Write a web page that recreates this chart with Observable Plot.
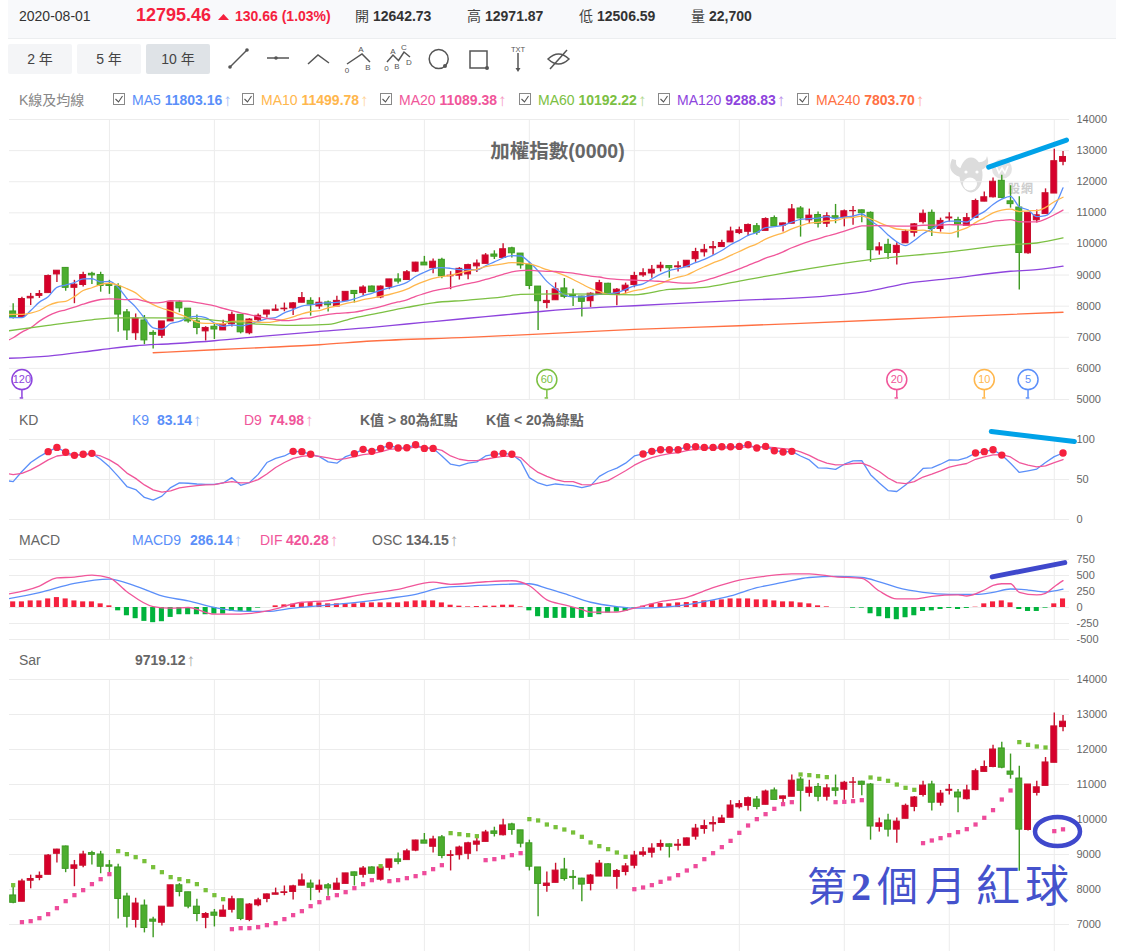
<!DOCTYPE html>
<html><head><meta charset="utf-8">
<script src="https://cdn.jsdelivr.net/npm/d3@7"></script>
<script src="https://cdn.jsdelivr.net/npm/@observablehq/plot@0.6"></script>
<style>
html,body{margin:0;padding:0;width:1145px;height:951px;overflow:hidden;background:#fff;font-family:"Liberation Sans","Noto Sans CJK TC",sans-serif;}
#page{position:relative;width:1145px;height:951px;overflow:hidden;}
.t{position:absolute;white-space:nowrap;transform:translateY(-50%);line-height:1;}
.abs{position:absolute;}
.up{font-weight:normal;opacity:.6;font-size:17px;line-height:0;vertical-align:-1px;margin-left:1px;}
</style></head><body><div id="page"></div>
<script>
const open_=[7830,7650,8250,8330,8420,9020,9230,8590,8680,9040,9000,8690,8630,7800,7130,7540,7140,7050,7510,8120,7920,7510,7190,7340,7220,7420,7720,7130,7550,7730,7850,7900,7930,8110,8170,7990,8120,7990,8160,8490,8420,8630,8280,8620,8860,8840,9110,9400,9220,9490,8960,8980,9020,9280,9360,9660,9550,9860,9690,9320,8630,8100,8190,8570,8360,8310,8160,8370,8720,8360,8500,8680,8990,9050,9220,9290,9250,9250,9510,9730,9860,9900,10050,10350,10390,10570,10420,10830,10590,10650,11140,10760,10930,10650,10890,10850,11050,11080,11000,9790,9970,9710,10020,10360,10700,11000,10480,10820,10770,10580,10840,11360,11500,12030,11370,11170,9700,10760,10960,11620,12640];
const high=[8080,8290,8410,8500,9000,9150,9240,8830,9090,9090,9090,8830,8720,7890,7750,7700,7210,7510,8120,8170,7920,7720,7340,7430,7550,7810,7720,7600,7750,7870,8040,8100,8120,8440,8270,8270,8170,8320,8460,8500,8660,8650,8650,8860,9040,9150,9410,9600,9520,9540,9110,9240,9350,9480,9690,9780,10010,9890,9690,9410,8630,8500,8750,8890,8540,8320,8430,8830,8740,8570,8740,9090,9200,9310,9410,9300,9430,9470,9860,9980,10080,10120,10540,10540,10640,10660,10840,10900,10670,11270,11200,11120,11030,11000,11270,11090,11200,11090,11030,10040,10150,10040,10440,10660,11090,11090,10830,11000,10860,10980,11440,11670,12120,12210,11870,11520,11000,11090,11770,13040,12970];
const low=[7590,7650,8020,8250,8420,8760,8480,8080,8620,8700,8450,8380,7160,6900,6900,6760,6620,6960,7510,7790,7450,7080,6880,6930,7220,7330,7110,7080,7510,7620,7850,7820,7700,8110,7680,7900,7810,7990,8160,8100,8330,8450,8240,8530,8710,8840,9080,9310,9040,8880,8530,8840,8850,9080,9360,9500,9530,9550,9190,8530,7220,7920,8190,8240,7990,7650,7960,8370,8370,8010,8390,8590,8930,8900,9100,8900,9100,9250,9410,9580,9640,9900,10050,10300,10240,10280,10420,10560,10380,10650,10220,10640,10510,10530,10650,10550,10600,10680,9410,9640,9500,9320,10020,10220,10640,10240,10380,10700,10190,10560,10820,11360,11480,11450,11150,8520,9670,10670,10960,11620,12510];
const close_=[7620,8230,8300,8390,8970,9140,8590,8690,9000,8990,8650,8650,7730,7220,7600,6900,7080,7510,8120,7930,7510,7300,7300,7250,7400,7720,7160,7570,7690,7860,7890,7920,8090,8260,8050,8110,8030,8170,8460,8390,8600,8450,8630,8860,8790,9090,9400,9310,9430,8960,8980,9200,9320,9370,9630,9590,9830,9700,9310,8650,8160,8170,8540,8300,8330,8140,8400,8740,8370,8530,8660,8970,9060,9170,9300,9220,9280,9460,9740,9810,9900,10030,10400,10440,10610,10360,10800,10560,10660,11110,10820,10910,10650,10890,10820,11050,11060,10990,9800,9890,9710,9940,10390,10630,10970,10480,10740,10850,10630,10830,11380,11500,12000,11480,11280,9710,11000,10920,11630,12660,12795];
// moving averages, bar 0 (clipped at the left edge) to bar 121
const ma5=[7630,7630,7630,7860,8130,8302,8606,8678,8756,8878,8882,8784,8796,8604,8248,7970,7620,7306,7262,7442,7508,7630,7674,7632,7458,7352,7394,7366,7420,7508,7600,7634,7786,7890,8004,8042,8086,8108,8124,8164,8232,8330,8414,8506,8586,8666,8764,8954,9090,9204,9238,9216,9176,9178,9166,9300,9422,9548,9624,9612,9416,9130,8798,8566,8364,8300,8296,8342,8382,8396,8436,8540,8654,8718,8878,9032,9144,9206,9286,9400,9502,9638,9788,9976,10116,10276,10368,10522,10554,10598,10698,10790,10812,10830,10876,10818,10864,10894,10962,10744,10558,10290,10066,9946,10112,10328,10482,10642,10734,10734,10706,10886,11038,11268,11438,11528,11194,11094,10878,10908,11184,11803];
const ma10=[7730,7733,7733,7776,7861,8022,8118,8154,8308,8504,8592,8695,8737,8680,8563,8426,8202,8051,7933,7845,7739,7625,7490,7447,7450,7430,7512,7520,7526,7483,7476,7514,7576,7655,7756,7821,7860,7947,8007,8084,8137,8208,8261,8315,8375,8449,8547,8684,8798,8895,8952,8990,9065,9134,9185,9269,9319,9362,9401,9389,9358,9276,9173,9095,8988,8858,8713,8570,8474,8380,8368,8418,8498,8550,8637,8734,8842,8930,9002,9139,9267,9391,9497,9631,9758,9889,10003,10155,10265,10357,10487,10579,10667,10692,10737,10758,10827,10853,10896,10810,10688,10577,10480,10454,10428,10443,10386,10354,10340,10423,10517,10684,10840,11001,11086,11117,11040,11066,11073,11173,11356,11500];
const ma20=[6850,6984,7166,7305,7519,7690,7808,7883,7968,8064,8150,8214,8235,8228,8212,8224,8160,8103,8120,8175,8166,8160,8114,8064,8007,7928,7857,7786,7730,7664,7608,7570,7533,7551,7603,7626,7686,7734,7767,7784,7807,7861,7919,7985,8066,8135,8204,8316,8403,8490,8545,8599,8663,8725,8780,8859,8933,9023,9100,9142,9155,9133,9119,9115,9087,9064,9016,8966,8938,8885,8863,8847,8836,8823,8813,8796,8778,8750,8738,8760,8818,8905,8998,9091,9198,9312,9423,9543,9634,9748,9877,9985,10082,10162,10248,10324,10415,10504,10581,10584,10588,10578,10574,10573,10583,10601,10607,10604,10618,10617,10603,10631,10660,10728,10757,10780,10713,10710,10707,10798,10937,11089];
const ma60Bars=[0,5,10,13,17,21,25,29,33,37,40,42,46,49,53,57,59,63,68,72,76,80,84,92,99,108,115,118,121];
const ma60=[7190,7380,7562,7626,7626,7615,7519,7423,7380,7412,7626,7734,7959,8109,8195,8302,8377,8398,8387,8366,8537,8602,8805,9208,9496,9742,9977,10030,10192];
const ma120Bars=[0,5,11,15,19,24,30,36,42,46,49,53,57,61,63,68,72,80,84,95,99,103,108,115,118,121];
const ma120=[6320,6396,6599,6728,6792,6888,7048,7187,7317,7427,7506,7611,7716,7821,7873,7959,8013,8130,8184,8353,8492,8727,8887,9122,9175,9289];
const ma240Bars=[17,24,30,36,42,53,61,72,84,91,102,110,121];
const ma240=[6503,6599,6674,6760,6880,6995,7102,7252,7370,7450,7580,7680,7804];
// KD, bar 0 to bar 121
const k9=[49,47.3,60,71.2,78.6,84.8,90.1,84,80.2,81.5,82.7,75.3,65.8,53.9,41.2,37.4,27.6,24.3,29.2,39.9,45.7,45.3,44.4,44,44,45.7,52.3,42.8,46.1,56.4,71.2,76.5,79.4,85.2,84.8,81.5,78.6,72,70.4,78.6,82.3,87.7,85.2,88.9,92.6,89.3,89.7,93.4,88.9,88.9,79.4,69.1,67,70.4,72,79.4,81.5,82.7,81.5,73.3,52.3,45.7,42.4,44.4,43.2,42.4,39.9,42.4,53.9,60,64.2,70.4,79.4,81.9,85.2,87.2,87.2,87.2,90.9,90.9,90.1,90.1,90.9,90.9,91.4,93.4,89.3,91.4,86,84.4,85.2,79.4,74.5,64.6,64.2,62.6,69.1,73.3,73.7,56,45.7,36.2,35,43.2,52.7,63.8,64.6,69.1,74.5,74.1,77.4,83.1,84.8,87.2,80.5,70.4,58.8,60.9,63,71.2,78.6,83.14];
const d9=[58,56,57.6,62,68,74.5,79.4,80.7,80.7,80.7,81.5,79.4,74.5,67.9,58,51.4,43.2,37,34.2,35.8,39.5,41.2,42.4,43.2,43.6,45.7,47.3,45.7,46.1,49.8,56.8,65,71.2,76.5,79,80.2,79,77,74.9,76.1,78.6,81,82.3,84.4,87.7,88.5,88.5,90.9,90.1,88.9,86.4,79.4,75.3,73.7,73.7,75.3,77.4,79,79.4,77.4,67,58.8,53.9,49.8,47.3,47.3,43.6,43.2,45.7,48.6,54.7,60.9,67.9,73.3,77.4,80.2,82.3,83.5,86,87.7,88.5,88.9,89.3,89.7,90.1,90.9,90.9,90.9,89.7,88.5,87.7,84.4,80.2,74.5,70.4,68.3,68.7,70,70.4,66.3,60,51.9,46.1,44.9,47.3,53.1,56.8,60.9,65.4,67.9,70,75.3,78.2,80.7,81,78.2,71.2,67.9,65.8,67,71.2,74.98];
// MACD, bar 1 to bar 121 for OSC
const osc=[88,88,103,103,134,155,134,103,88,88,57,26,-52,-129,-175,-217,-237,-222,-155,-113,-113,-113,-113,-103,-103,-62,-62,-62,-10,0,26,41,52,67,77,72,57,57,57,57,72,72,72,72,72,88,103,103,103,72,36,21,10,15,21,21,36,36,10,-52,-144,-170,-170,-170,-170,-170,-155,-113,-88,-72,-62,-10,21,52,62,57,72,77,93,103,103,119,134,134,134,119,119,103,88,88,72,57,26,10,0,0,-10,-10,-98,-144,-175,-191,-160,-129,-62,-52,-31,-15,-31,-15,5,57,88,103,72,-31,-62,-62,-10,57,134];
const macdBars=[0,4,8,12,15,18,21,24,27,30,33,36,40,44,47,50,53,57,60,62,64,67,70,72,74,77,80,83,86,89,92,95,98,100,102,105,108,111,113,115,117,119,121];
const macd9=[125,232,376,443,335,180,103,0,-57,-62,-10,26,77,144,206,309,335,361,371,299,217,82,15,-10,-5,26,93,180,309,392,469,485,469,402,314,237,206,206,237,289,273,242,286];
const difBars=[0,4,6,8,10,12,14,17,19,21,24,27,30,34,37,41,45,49,51,55,58,60,62,64,66,67,70,72,75,78,81,84,87,90,92,95,98,100,102,104,106,109,110,112,113,114,115,116,118,119,120,121];
const dif=[200,335,464,474,505,464,247,15,-10,0,-103,-103,-52,82,108,206,284,397,361,402,418,340,119,41,-31,-72,-72,-10,93,160,309,428,490,526,526,479,454,258,134,134,175,196,180,273,345,371,371,237,196,222,325,420];
// SAR, bar 1 to bar 121
const sar=[8124,7067,7095,7181,7295,7467,7667,7838,7981,8153,8295,8438,9095,9010,8924,8810,8638,8495,8353,8295,8238,8153,7981,7838,7724,6867,6895,6895,6924,6981,7038,7153,7267,7381,7524,7638,7753,7838,7924,8038,8153,8267,8667,8238,8267,8324,8381,8467,8581,8695,9610,9581,9553,9524,8838,8867,8924,8981,9038,10010,9972,9857,9781,9714,9629,9505,9343,9238,9152,9057,8933,8009,8057,8124,8219,8314,8410,8543,8667,8867,9038,9210,9390,9619,9829,10010,10152,10305,10438,10495,11286,11267,11238,11210,10495,10505,10524,10552,11200,11162,11105,10999,10905,10848,9324,9400,9467,9552,9638,9724,9857,10048,10267,10571,10829,12210,12133,12086,12057,9667,9719];
const sarGreenFrom=[1,13,43,51,60,91,99,116];
const sarGreenTo=[1,25,43,54,71,94,104,119];
// scale ticks
const priceTicks=[5000,6000,7000,8000,9000,10000,11000,12000,13000,14000];
const sarTicks=[7000,8000,9000,10000,11000,12000,13000,14000];
const kdTicks=[0,50,100];
const macdTicks=[-500,-250,0,250,500,750];
const gridBars=[12,24,36,48,60,72,84,96,108,120];
const xDomain=[0.58,121.74];
// period markers
const markerBars=[2,62,102,112,117];
const markerLabels=["120","60","20","10","5"];
const markerColors=["#8e44dd","#7cc043","#f0569a","#ffb74d","#5b8ff9"];
// hand-drawn notes
const noteTopBars=[112.5,121.4], noteTopVals=[12470,13340];
const noteKdBars=[112.8,122.3], noteKdVals=[110,97.5];
const noteMacdBars=[112.9,121.2], noteMacdVals=[479,701];
// header text
const legendMA=[
 {x:113,name:"MA5",val:"11803.16",c:"#5b8ff9"},
 {x:242,name:"MA10",val:"11499.78",c:"#ffb74d"},
 {x:380,name:"MA20",val:"11089.38",c:"#f0569a"},
 {x:519,name:"MA60",val:"10192.22",c:"#7cc043"},
 {x:658,name:"MA120",val:"9288.83",c:"#8e44dd"},
 {x:797,name:"MA240",val:"7803.70",c:"#ff7043"}];
const quote=[[355,"開","12642.73"],[467,"高","12971.87"],[579,"低","12506.59"],[691,"量","22,700"]];
const caption=[["第",807,40],["2",851,40],["個",877,41],["月",925,41],["紅",976,44],["球",1025,44]];

for (const a of [open_,high,low,close_,osc,sar]) if(a.length!==121) throw new Error("len121 "+a.length);
for (const a of [ma5,ma10,ma20,k9,d9]) if(a.length!==122) throw new Error("len122 "+a.length);
if(ma60.length!==ma60Bars.length||ma120.length!==ma120Bars.length||ma240.length!==ma240Bars.length||macd9.length!==macdBars.length||dif.length!==difBars.length) throw new Error("knots");

const page=document.getElementById("page");
function text(x,y,s,o={}){
  const e=document.createElement("div");e.className="t";e.style.left=x+"px";e.style.top=y+"px";
  e.style.fontSize=(o.size||14)+"px";e.style.color=o.c||"#666";if(o.bold)e.style.fontWeight="bold";
  if(o.ls)e.style.letterSpacing=o.ls+"px";
  e.textContent=s;page.appendChild(e);return e;}
function box(x,y,w,h,bg){const e=document.createElement("div");e.className="abs";e.style.cssText+=`left:${x}px;top:${y}px;width:${w}px;height:${h}px;background:${bg};`;page.appendChild(e);return e;}
function svg(inner){const w=document.createElement("div");w.innerHTML=`<svg class="abs" style="left:0;top:0;pointer-events:none;overflow:visible" width="1145" height="951" xmlns="http://www.w3.org/2000/svg">${inner}</svg>`;page.appendChild(w.firstChild);}

// header strip
box(8,0,1108,38,"#f8f9fb");box(8,38,1108,1,"#eceef0");
text(19,16,"2020-08-01",{size:14,c:"#333"});
text(136,15,"12795.46",{size:18,bold:true,c:"#f5213e"});
svg(`<path d="M218 20 L229 20 L223.5 14 Z" fill="#f5213e"/>`);
text(235,16,"130.66 (1.03%)",{size:14,bold:true,c:"#f5213e"});
for(const [x,l,v] of quote){text(x,16,l,{size:14,c:"#444"});text(x+18,16,v,{size:14,bold:true,c:"#333"});}
// range buttons
[[8,"2 年","#f4f5f7"],[77,"5 年","#f4f5f7"],[146,"10 年","#dfe3e7"]].forEach(([x,l,bg])=>{
  const b=box(x,44,64,30,bg);b.style.borderRadius="2px";
  const t=text(x+32,59,l,{size:14,c:"#444"});t.style.transform="translate(-50%,-50%)";});
// tool icons
svg(`<g fill="none" stroke="#555" stroke-width="1.5">
<path d="M230 67 L247 50"/><path d="M267 58 H289"/><path d="M308 64 L318 55 L329 63"/>
<path d="M347 64 L362 54 L370 62"/><path d="M387 62 L393 55 L398.5 60.5 L404 52 L410 57"/>
<circle cx="438.7" cy="59" r="9.5"/><rect x="470" y="51" width="17" height="17"/><path d="M518 53 V70"/>
<path d="M548 59 Q558.6 49 569 59 Q558.6 69 548 59 Z"/><path d="M550 69 L567 50"/>
</g><g fill="#555"><circle cx="230" cy="67" r="1.8"/><circle cx="247" cy="50" r="1.8"/><circle cx="276" cy="58" r="1.8"/><circle cx="445" cy="66" r="2"/><circle cx="487" cy="68" r="2"/><path d="M515.5 68 h5 l-2.5 4 z"/>
<g font-size="8" font-family="Liberation Sans" text-anchor="middle"><text x="361" y="52">A</text><text x="347" y="73">0</text><text x="368" y="70">B</text>
<text x="393" y="54">A</text><text x="404" y="50">C</text><text x="386.6" y="71">0</text><text x="397" y="69">B</text><text x="409" y="65">D</text><text x="518" y="52" font-size="7.5">TXT</text></g></g>`);

// MA legend
text(19,100,"K線及均線",{size:14,c:"#888"});
for(const m of legendMA){
  const b=box(m.x,93,12,12,"#fff");b.style.border="1px solid #888";b.style.boxSizing="border-box";
  svg(`<path d="M${m.x+2.5} ${99} l3 3 l4 -6" fill="none" stroke="#555" stroke-width="1.1"/>`);
  const e=text(m.x+19,100,"",{c:m.c});
  e.innerHTML=`${m.name} <b>${m.val}</b><span class="up">↑</span>`;
}
// panel headers
function hdr(y,parts){for(const p of parts){const e=text(p.x,y,"",{c:p.c||"#666",bold:p.bold});e.innerHTML=p.h;}}
const ar=`<span class="up">↑</span>`;
hdr(420,[{x:19,h:"KD"},{x:132,h:"K9",c:"#5b8ff9"},{x:157,h:"83.14"+ar,c:"#5b8ff9",bold:1},{x:244,h:"D9",c:"#f0569a"},{x:269,h:"74.98"+ar,c:"#f0569a",bold:1},{x:360,h:"K值 &gt; 80為紅點",bold:1},{x:486,h:"K值 &lt; 20為綠點",bold:1}]);
hdr(540,[{x:19,h:"MACD"},{x:132,h:"MACD9",c:"#5b8ff9"},{x:190,h:"286.14"+ar,c:"#5b8ff9",bold:1},{x:260,h:"DIF",c:"#f0569a"},{x:286,h:"420.28"+ar,c:"#f0569a",bold:1},{x:372,h:"OSC"},{x:406,h:"134.15"+ar,bold:1}]);
hdr(660,[{x:19,h:"Sar"},{x:135,h:"9719.12"+ar,bold:1}]);

// watermark under the price panel
svg(`<g fill="#dcdcdc"><ellipse cx="971" cy="175" rx="11.5" ry="17.5"/>
<path d="M952 159 Q946 172 960 177 L966 174 L966 168 Q955 170 956 160 Z"/><path d="M977 162 Q986 163 987 156 Q991 166 981 170 Z"/>
<circle cx="1002" cy="169" r="10" opacity=".8"/></g>
<ellipse cx="970" cy="184" rx="7" ry="6.5" fill="#fff"/><circle cx="966" cy="172" r="1.6" fill="#fff"/><circle cx="977" cy="172" r="1.6" fill="#fff"/>
<path d="M996 166 l3 7 l3 -5 l3 5 l3 -7" fill="none" stroke="#fff" stroke-width="1.6"/>
<text x="1008" y="193" font-size="12" font-weight="bold" fill="#ccc" letter-spacing="1" font-family="Noto Sans CJK TC">股網</text>`);

// data tables
const candles=open_.map((o,i)=>({bar:i+1,o,h:high[i],l:low[i],c:close_[i]}));
const seq=a=>a.map((v,i)=>({bar:i,v}));
const pairs=(b,a)=>a.map((v,i)=>({bar:b[i],v}));
const candleFill=d=>d.c>=d.o?"#d6002b":"#4cad2e";
const candleEdge=d=>d.c>=d.o?"#c8102e":"#3d9a22";
const candleMarks=()=>[
  Plot.ruleX(candles,{x:"bar",y1:"l",y2:"h",stroke:candleEdge,strokeWidth:1.4}),
  Plot.rect(candles,{x1:d=>d.bar-0.34,x2:d=>d.bar+0.34,y1:"o",y2:"c",fill:candleFill,stroke:candleEdge,strokeWidth:1})
];
const line=(data,stroke,o={})=>Plot.line(data,{x:"bar",y:"v",stroke,strokeWidth:1.3,curve:"monotone-x",clip:true,...o});
const note=(bars,vals,stroke)=>Plot.line(pairs(bars,vals),{x:"bar",y:"v",stroke,strokeWidth:5,strokeLinecap:"round"});

function panel(top,bottom,domain,ticks,marks){
  const m=10;
  const p=Plot.plot({
    width:1145,height:bottom-top+2*m,marginTop:m,marginBottom:m,marginLeft:9,marginRight:76,
    style:{background:"transparent",overflow:"visible",fontFamily:"Liberation Sans",fontSize:"11px",color:"#666"},
    x:{domain:xDomain,axis:null},y:{domain,axis:null},
    marks:[
      Plot.gridY(ticks,{stroke:"#ececec",strokeOpacity:1,strokeWidth:1}),
      Plot.gridX(gridBars,{stroke:"#ececec",strokeOpacity:1,strokeWidth:1}),
      Plot.axisY(ticks,{anchor:"right",tickSize:0,tickPadding:7,tickFormat:d=>String(d),label:null,fontSize:11,fill:"#666"}),
      ...marks]});
  p.style.position="absolute";p.style.left="0";p.style.top=(top-m)+"px";p.style.maxWidth="none";
  page.appendChild(p);
}

panel(119,399,[5000,14000],priceTicks,[
  ...candleMarks(),
  line(seq(ma5),"#5b8ff9"),line(seq(ma10),"#ffb74d"),line(seq(ma20),"#f0569a"),
  line(pairs(ma60Bars,ma60),"#7cc043"),line(pairs(ma120Bars,ma120),"#8e44dd"),line(pairs(ma240Bars,ma240),"#ff7043"),
  Plot.ruleX(markerBars,{x:d=>d,y1:priceTicks[0]+50,y2:5400,stroke:(d,i)=>markerColors[i],strokeWidth:1.5}),
  Plot.ruleY(markerBars,{x1:d=>d-0.2,x2:d=>d+0.2,y:priceTicks[0]+50,stroke:(d,i)=>markerColors[i],strokeWidth:1.5}),
  Plot.dot(markerBars,{x:d=>d,y:5640,r:10,fill:"#fff",stroke:(d,i)=>markerColors[i],strokeWidth:1.5}),
  Plot.text(markerBars,{x:d=>d,y:5640,text:(d,i)=>markerLabels[i],fill:(d,i)=>markerColors[i],fontSize:11}),
  Plot.text(["加權指數(0000)"],{frameAnchor:"top",dx:18,dy:25,text:d=>d,fontSize:19.5,fontWeight:"bold",fill:"#666",fontFamily:"Liberation Sans, Noto Sans CJK TC"}),
  note(noteTopBars,noteTopVals,"#00a2e8")
]);

panel(439,519,[0,100],kdTicks,[
  line(seq(k9),"#5b8ff9",{curve:"linear"}),line(seq(d9),"#f0569a",{curve:"linear"}),
  Plot.dot(seq(k9).filter(d=>d.v>80),{x:"bar",y:"v",r:3.7,fill:"#f5213e"}),
  note(noteKdBars,noteKdVals,"#00a2e8")
]);

panel(559,639,[-500,750],macdTicks,[
  Plot.rect(osc.map((v,i)=>({bar:i+1,v})).filter(d=>d.v!==0),{x1:d=>d.bar-0.29,x2:d=>d.bar+0.29,y1:()=>0,y2:"v",fill:d=>d.v>0?"#f5213e":"#00b33c"}),
  line(pairs(macdBars,macd9),"#5b8ff9"),line(pairs(difBars,dif),"#f0569a"),
  note(noteMacdBars,noteMacdVals,"#3f48cc")
]);

const isGreen=b=>sarGreenFrom.some((f,i)=>b>=f&&b<=sarGreenTo[i]);
panel(679,959,[6000,14000],sarTicks,[
  ...candleMarks(),
  Plot.dot(sar.map((v,i)=>({bar:i+1,v})),{x:"bar",y:"v",symbol:"square",r:2.4,fill:d=>isGreen(d.bar)?"#78c03a":"#ee4b9b"})
]);

// hand-drawn circle and caption on the Sar panel
svg(`<ellipse cx="1057.5" cy="831.5" rx="22.5" ry="14.5" fill="none" stroke="#3f48cc" stroke-width="4.5"/>`);
for(const [ch,x,size] of caption){
  const e=text(x,887,ch,{size,c:"#4552cc"});
  if(ch==="2"){e.style.fontFamily="Liberation Serif";e.style.fontWeight="bold";}
}
</script></body></html>
